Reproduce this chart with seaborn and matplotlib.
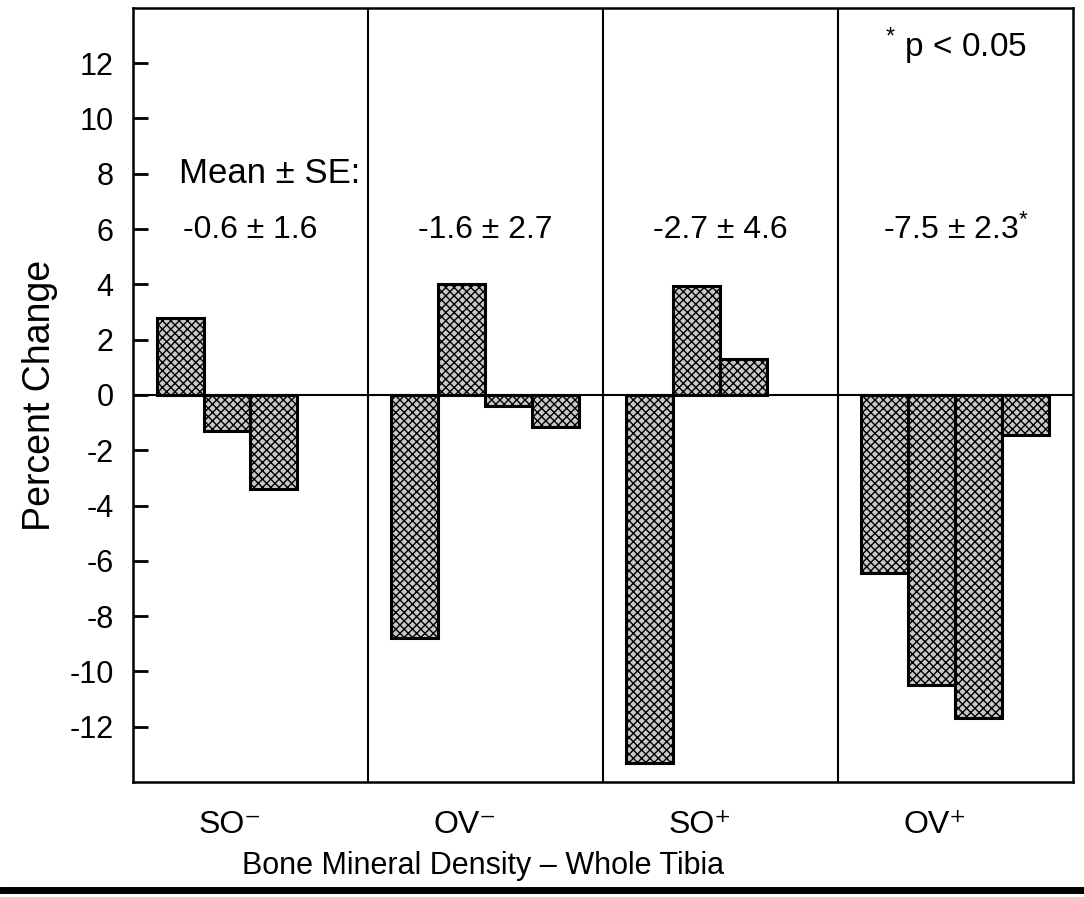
import matplotlib
matplotlib.use("Agg")
import matplotlib.pyplot as plt
import seaborn as sns
import pandas as pd
from matplotlib.lines import Line2D
from matplotlib.transforms import ScaledTranslation

groups = ["SO⁻", "OV⁻", "SO⁺", "OV⁺"]
so_minus = [2.8, -1.3, -3.4]
ov_minus = [-8.8, 4.0, -0.4, -1.15]
so_plus = [-13.3, 3.95, 1.3]
ov_plus = [-6.45, -10.5, -11.7, -1.45]
mean_se = ["-0.6 ± 1.6", "-1.6 ± 2.7", "-2.7 ± 4.6", "-7.5 ± 2.3$^{*}$"]
yticks = list(range(-12, 13, 2))

rows = []
for g, vals in zip(groups, [so_minus, ov_minus, so_plus, ov_plus]):
    for i, v in enumerate(vals):
        rows.append({"group": g, "subject": f"s{i+1}", "value": v})
df = pd.DataFrame(rows)

sns.set_theme(style="white")
plt.rcParams["font.family"] = ["Liberation Sans", "DejaVu Sans"]
plt.rcParams["text.color"] = "black"
plt.rcParams["axes.labelcolor"] = "black"
plt.rcParams["xtick.color"] = "black"
plt.rcParams["ytick.color"] = "black"
plt.rcParams["hatch.linewidth"] = 1.0
plt.rcParams["mathtext.fontset"] = "custom"
plt.rcParams["mathtext.rm"] = "Liberation Sans"
plt.rcParams["mathtext.default"] = "regular"

fig = plt.figure(figsize=(10.84, 8.97), dpi=100)
ax = fig.add_axes([0.1227, 0.1282, 0.8671, 0.863])

sns.barplot(data=df, x="group", y="value", hue="subject", order=groups,
            hue_order=["s1", "s2", "s3", "s4"],
            palette=["#c8c8c8", "#c8c8c8", "#c8c8c8", "#c8c8c8"],
            width=0.8, dodge=True, errorbar=None, legend=False, ax=ax,
            edgecolor="black", linewidth=2.2, saturation=1)
for p in ax.patches:
    p.set_hatch("xxxx")
    p.set_edgecolor("black")

ax.set_xlim(-0.5, 3.5)
ax.set_ylim(-14, 14)
ax.axhline(0, color="black", lw=1.5, zorder=1)
for xv in [0.5, 1.5, 2.5]:
    ax.axvline(xv, color="black", lw=1.5)
for s in ax.spines.values():
    s.set_visible(True)
    s.set_color("black")
    s.set_linewidth(1.8)

ax.set_yticks(yticks)
ax.set_yticklabels([str(t) for t in yticks])
ax.tick_params(axis="y", direction="in", length=11, width=2, labelsize=22,
               left=True, pad=14)
ax.tick_params(axis="x", bottom=False, labelsize=23, pad=14)
ax.set_xticks(range(4))
ax.set_xticklabels(groups)
shift = ScaledTranslation(-0.2, 0, fig.dpi_scale_trans)
for lab in ax.get_xticklabels():
    lab.set_transform(lab.get_transform() + shift)
ax.set_ylabel("Percent Change", fontsize=27, labelpad=8)
ax.set_xlabel("Bone Mineral Density – Whole Tibia", fontsize=22)
ax.xaxis.set_label_coords(0.372, -0.1085)
ax.xaxis.label.set_verticalalignment("center")

ax.text(0.08, 8.0, "Mean ± SE:", ha="center", va="center", fontsize=25)
for i, t in enumerate(mean_se):
    ax.text(i, 5.95, t, ha="center", va="center", fontsize=23)
ax.text(3.0, 12.6, "$^{*}$ p < 0.05", ha="center", va="center", fontsize=24)

fig.add_artist(Line2D([0, 1], [0.008, 0.008], transform=fig.transFigure,
                      color="black", lw=5))

fig.savefig("out.png", dpi=100, facecolor="white")
